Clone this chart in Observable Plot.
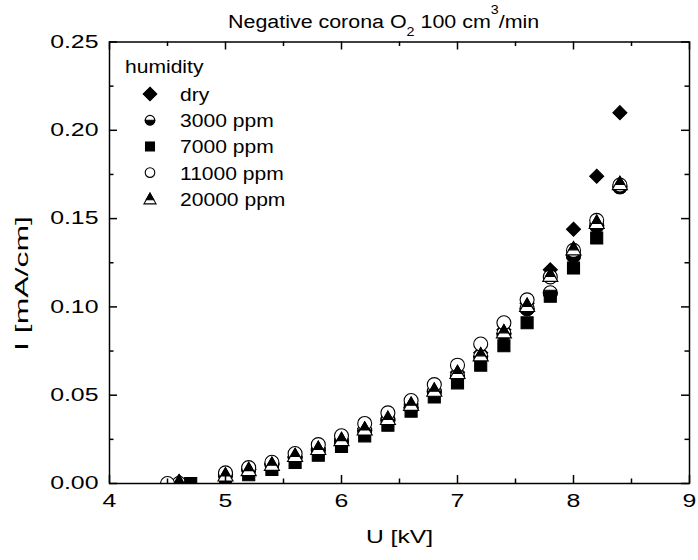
<!DOCTYPE html>
<html><head><meta charset="utf-8">
<script src="https://cdn.jsdelivr.net/npm/d3@7"></script>
<script src="https://cdn.jsdelivr.net/npm/@observablehq/plot@0.6"></script>
<style>
body{margin:0;background:#fff;}
#wrap{position:relative;width:698px;height:560px;font-family:"Liberation Sans",Arial,sans-serif;}
#wrap svg{position:absolute;left:0;top:0;}
</style></head><body><div id="wrap"></div>
<script>
// ---- data ----
const titleMain = "Negative corona O";
const xLabel = "U [kV]";
const yLabel = "I [mA/cm]";
const legendTitle = "humidity";
const seriesNames = ["dry", "3000 ppm", "7000 ppm", "11000 ppm", "20000 ppm"];

const uDry   = [4.6, 5.0, 5.2, 5.4, 5.6, 5.8, 6.0, 6.2, 6.4, 6.6, 6.8, 7.0, 7.2, 7.4, 7.6, 7.8, 8.0, 8.2, 8.4];
const iDry   = [0.001, 0.005, 0.008, 0.011, 0.015, 0.020, 0.025, 0.031, 0.037, 0.045, 0.053, 0.063, 0.074, 0.087, 0.102, 0.121, 0.144, 0.174, 0.210];
const u3000  = [4.6, 5.0, 5.2, 5.4, 5.6, 5.8, 6.0, 6.2, 6.4, 6.6, 6.8, 7.0, 7.2, 7.4, 7.6, 7.8, 8.0, 8.2, 8.4];
const i3000  = [0.000, 0.005, 0.008, 0.011, 0.015, 0.019, 0.024, 0.030, 0.036, 0.043, 0.052, 0.061, 0.072, 0.085, 0.099, 0.108, 0.129, 0.146, 0.168];
const u7000  = [4.7, 5.0, 5.2, 5.4, 5.6, 5.8, 6.0, 6.2, 6.4, 6.6, 6.8, 7.0, 7.2, 7.4, 7.6, 7.8, 8.0, 8.2];
const i7000  = [0.000, 0.003, 0.005, 0.008, 0.012, 0.016, 0.021, 0.027, 0.033, 0.041, 0.049, 0.057, 0.067, 0.078, 0.091, 0.106, 0.122, 0.139];
const u11000 = [4.5, 5.0, 5.2, 5.4, 5.6, 5.8, 6.0, 6.2, 6.4, 6.6, 6.8, 7.0, 7.2, 7.4, 7.6, 7.8, 8.0, 8.2, 8.4];
const i11000 = [0.000, 0.006, 0.009, 0.012, 0.017, 0.022, 0.027, 0.034, 0.040, 0.047, 0.056, 0.067, 0.079, 0.091, 0.104, 0.117, 0.132, 0.149, 0.169];
const u20000 = [4.6, 5.0, 5.2, 5.4, 5.6, 5.8, 6.0, 6.2, 6.4, 6.6, 6.8, 7.0, 7.2, 7.4, 7.6, 7.8, 8.0, 8.2, 8.4];
const i20000 = [0.001, 0.005, 0.008, 0.011, 0.016, 0.020, 0.025, 0.031, 0.037, 0.045, 0.053, 0.063, 0.073, 0.086, 0.101, 0.118, 0.133, 0.148, 0.170];

const xMajor = [4, 5, 6, 7, 8, 9];
const xMinor = [4.5, 5.5, 6.5, 7.5, 8.5];
const yMajor = [0, 0.05, 0.10, 0.15, 0.20, 0.25];
const yMinor = [0.025, 0.075, 0.125, 0.175, 0.225];

// ---- layout ----
const W = 698, H = 560, mT = 41.5, mB = 77, mL = 109, mR = 9;
const fh = H - mT - mB, fw = W - mL - mR;
const majLen = 8, minLen = 4.5;
const R = 7;
const FONT = '"Liberation Sans", Arial, sans-serif';

// ---- custom symbols ----
const rad = s => Math.sqrt(s / Math.PI);
const SYM = {
  diamond: {draw(c, s) { const d = rad(s) * 1.0; c.moveTo(0, -d); c.lineTo(d, 0); c.lineTo(0, d); c.lineTo(-d, 0); c.closePath(); }},
  square: {draw(c, s) { const h = rad(s) * 0.86; c.rect(-h, -h, 2 * h, 2 * h); }},
  circle: {draw(c, s) { const r = rad(s); c.moveTo(r, 0); c.arc(0, 0, r, 0, 2 * Math.PI); c.closePath(); }},
  lowerHalf: {draw(c, s) { const r = rad(s); c.moveTo(r, 0); c.arc(0, 0, r, 0, Math.PI); c.closePath(); }},
  triangle: {draw(c, s) { const r = rad(s), w = 1.08 * r, t = -1.0 * r, b = 0.9 * r; c.moveTo(0, t); c.lineTo(w, b); c.lineTo(-w, b); c.closePath(); }},
  triTop: {draw(c, s) { const r = rad(s), w = 1.08 * r, t = -1.0 * r, b = 0.9 * r, f = 0.62; const yl = t + f * (b - t), hw = w * f; c.moveTo(0, t); c.lineTo(hw, yl); c.lineTo(-hw, yl); c.closePath(); }}
};

const pts = (us, is) => us.map((u, k) => ({u, i: is[k]}));
const dot = (data, symbol, fill, stroke) => Plot.dot(data, {x: "u", y: "i", symbol, r: R, fill, stroke, strokeWidth: 1.1, clip: true});

const chart = Plot.plot({
  width: W, height: H,
  marginTop: mT, marginBottom: mB, marginLeft: mL, marginRight: mR,
  x: {domain: [4, 9]},
  y: {domain: [0, 0.25]},
  style: {fontFamily: FONT, fontSize: "18px", color: "black", background: "transparent", overflow: "visible"},
  marks: [
    dot(pts(uDry, iDry), SYM.diamond, "black", "black"),
    dot(pts(u3000, i3000), SYM.circle, "white", "black"),
    dot(pts(u3000, i3000), SYM.lowerHalf, "black", "black"),
    dot(pts(u7000, i7000), SYM.square, "black", "black"),
    dot(pts(u11000, i11000), SYM.circle, "white", "black"),
    dot(pts(u20000, i20000), SYM.triangle, "white", "black"),
    dot(pts(u20000, i20000), SYM.triTop, "black", "black"),
    Plot.frame({stroke: "black", strokeWidth: 1.5}),
    Plot.tickX(xMajor, {x: d => d, insetTop: fh - majLen, stroke: "black", strokeWidth: 1.5}),
    Plot.tickX(xMajor, {x: d => d, insetBottom: fh - majLen, stroke: "black", strokeWidth: 1.5}),
    Plot.tickX(xMinor, {x: d => d, insetTop: fh - minLen, stroke: "black", strokeWidth: 1.5}),
    Plot.tickX(xMinor, {x: d => d, insetBottom: fh - minLen, stroke: "black", strokeWidth: 1.5}),
    Plot.tickY(yMajor, {y: d => d, insetRight: fw - majLen, stroke: "black", strokeWidth: 1.5}),
    Plot.tickY(yMajor, {y: d => d, insetLeft: fw - majLen, stroke: "black", strokeWidth: 1.5}),
    Plot.tickY(yMinor, {y: d => d, insetRight: fw - minLen, stroke: "black", strokeWidth: 1.5}),
    Plot.tickY(yMinor, {y: d => d, insetLeft: fw - minLen, stroke: "black", strokeWidth: 1.5}),
    Plot.axisX(xMajor, {tickSize: 0, tickPadding: 11, tickFormat: d => String(d), label: null}),
    Plot.axisY(yMajor, {tickSize: 0, tickPadding: 11, tickFormat: d3.format(".2f"), label: null}),
    Plot.text([xLabel], {frameAnchor: "bottom", dy: 59})
  ]
});

const wrap = document.getElementById("wrap");
wrap.appendChild(chart);

function stretch(nodes, k) {
  nodes.forEach(t => {
    const L = t.getComputedTextLength();
    if (L > 0) { t.setAttribute("textLength", L * k); t.setAttribute("lengthAdjust", "spacingAndGlyphs"); }
  });
}
const allText = Array.from(chart.querySelectorAll("text"));
stretch(chart.querySelectorAll('g[aria-label="x-axis tick label"] text'), 1.38);
stretch(chart.querySelectorAll('g[aria-label="y-axis tick label"] text'), 1.38);
stretch(allText.filter(t => t.textContent === xLabel), 1.37);

// ---- overlay: title, y label, legend ----
const ov = d3.select(wrap).append("svg").attr("width", W).attr("height", H)
  .style("font-family", FONT).style("font-size", "18px");

const tt = ov.append("text").attr("x", 228).attr("y", 28);
tt.append("tspan").text(titleMain);
tt.append("tspan").attr("dy", 8).attr("font-size", 12).text("2");
tt.append("tspan").attr("dy", -8).text(" 100 cm");
tt.append("tspan").attr("dy", -14).attr("font-size", 12).text("3");
tt.append("tspan").attr("dy", 14).text("/min");
stretch([tt.node()], 1.19);

const yl = ov.append("text").attr("transform", "translate(28,351) rotate(-90)")
  .attr("x", 0).attr("y", 0).attr("text-anchor", "start").attr("font-size", 19).text(yLabel);
yl.attr("textLength", 135).attr("lengthAdjust", "spacingAndGlyphs");

const lg = ov.append("g");
const lt = lg.append("text").attr("x", 125).attr("y", 73).text(legendTitle);
const legSyms = [
  [[SYM.diamond, 6.8, "black"]],
  [[SYM.circle, 4.8, "white"], [SYM.lowerHalf, 4.8, "black"]],
  [[SYM.square, 5.2, "black"]],
  [[SYM.circle, 4.8, "white"]],
  [[SYM.triangle, 5.6, "white"], [SYM.triTop, 5.6, "black"]]
];
const legText = [];
seriesNames.forEach((name, k) => {
  const cy = 94 + k * 26.2;
  legSyms[k].forEach(([type, r, fill]) => {
    lg.append("path").attr("transform", `translate(150,${cy})`)
      .attr("d", d3.symbol(type, Math.PI * r * r)())
      .attr("fill", fill).attr("stroke", "black").attr("stroke-width", 1.1);
  });
  legText.push(lg.append("text").attr("x", 180).attr("y", cy + 7).text(name).node());
});
stretch([lt.node(), ...legText], 1.17);
</script></body></html>
